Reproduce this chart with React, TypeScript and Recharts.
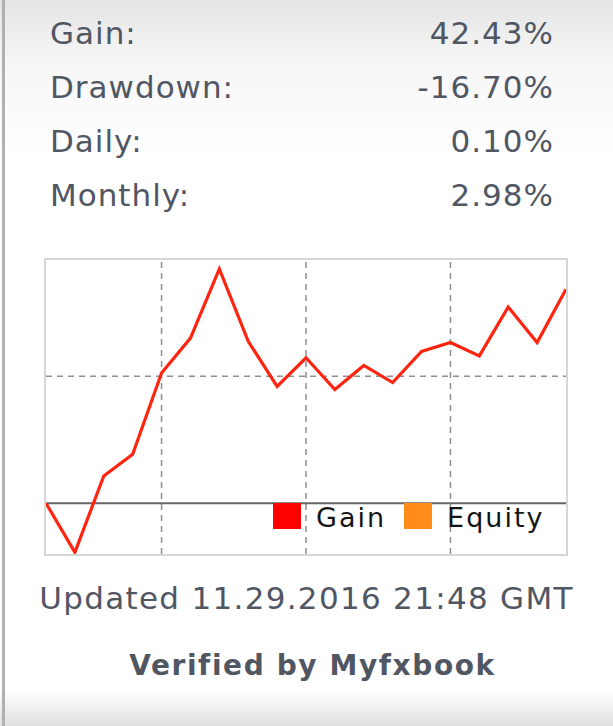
import { Legend, Line, LineChart, ReferenceLine, XAxis, YAxis } from 'recharts';

const statLabels = ['Gain:', 'Drawdown:', 'Daily:', 'Monthly:'];
const statValues = ['42.43%', '-16.70%', '0.10%', '2.98%'];

// one point per period (percent gain)
const gainValues = [0, -7.75, 4.3, 7.7, 20.5, 26.0, 36.9, 25.5, 18.4, 22.9, 17.9, 21.7, 19.0, 23.9, 25.3, 23.2, 30.9, 25.3, 33.7];
const xGridTicks = [4, 9, 14];
const yGridTicks = [20];
const legendNames = ['Gain', 'Equity'];
const legendColors = ['#ff0000', '#ff8c1a'];

const updatedText = 'Updated 11.29.2016 21:48 GMT';
const verifiedText = 'Verified by Myfxbook';

const data = gainValues.map((gain, i) => ({ i, gain }));

const TEXT = '#515663';
const FONT = '"DejaVu Sans", Verdana, sans-serif';
const GRID = { stroke: '#8e8e8e', strokeDasharray: '6 5', strokeWidth: 1.5 };

function LegendBox() {
  return (
    <div style={{ display: 'flex', alignItems: 'center', fontFamily: FONT, fontSize: 27, letterSpacing: 2, color: '#151515' }}>
      {legendNames.map((name, k) => (
        <div key={name} style={{ display: 'flex', alignItems: 'center', marginRight: 18 }}>
          <span style={{ display: 'inline-block', width: 28, height: 26, background: legendColors[k], marginRight: 15 }} />
          <span style={{ lineHeight: '26px', position: 'relative', top: 2 }}>{name}</span>
        </div>
      ))}
    </div>
  );
}

export default function App() {
  return (
    <div
      style={{
        position: 'absolute',
        left: 0,
        top: 0,
        width: 613,
        height: 726,
        overflow: 'hidden',
        background: 'linear-gradient(to bottom, #e4e4e4 0px, #f6f6f6 60px, #ffffff 160px, #ffffff 690px, #f0f0f0 708px, #e0e0e0 726px)',
        fontFamily: FONT,
      }}
    >
      <div style={{ position: 'absolute', left: 2, top: 0, width: 3, height: 726, background: '#b0b0b0' }} />

      <div style={{ position: 'absolute', left: 50, top: 6, width: 504, fontSize: 31, letterSpacing: 1, color: TEXT }}>
        {statLabels.map((label, k) => (
          <div key={label} style={{ display: 'flex', justifyContent: 'space-between', height: 54, lineHeight: '54px' }}>
            <span>{label}</span>
            <span>{statValues[k]}</span>
          </div>
        ))}
      </div>

      <div
        style={{
          position: 'absolute',
          left: 44,
          top: 258,
          width: 524,
          height: 298,
          border: '2px solid #d6d6d6',
          boxSizing: 'border-box',
          background: '#ffffff',
        }}
      >
        <LineChart width={520} height={294} data={data} margin={{ top: 0, right: 0, bottom: 0, left: 0 }}>
          <XAxis type="number" dataKey="i" domain={[0, 18]} hide />
          <YAxis type="number" domain={[-8, 38.3]} hide />
          {xGridTicks.map((x) => (
            <ReferenceLine key={`x${x}`} x={x} {...GRID} />
          ))}
          {yGridTicks.map((y) => (
            <ReferenceLine key={`y${y}`} y={y} {...GRID} />
          ))}
          <ReferenceLine y={0} stroke="#666666" strokeWidth={2} />
          <Line
            type="linear"
            dataKey="gain"
            name="Gain"
            stroke="#ff2410"
            strokeWidth={3.2}
            dot={false}
            activeDot={false}
            isAnimationActive={false}
          />
          <Legend
            layout="horizontal"
            verticalAlign="middle"
            align="center"
            content={<LegendBox />}
            wrapperStyle={{ left: 227, top: 243, width: 'auto' }}
          />
        </LineChart>
      </div>

      <div
        style={{
          position: 'absolute',
          left: 0,
          top: 580,
          width: 613,
          textAlign: 'center',
          fontSize: 31,
          lineHeight: '36px',
          letterSpacing: 1.3,
          color: TEXT,
        }}
      >
        {updatedText}
      </div>
      <div
        style={{
          position: 'absolute',
          left: 6,
          top: 649,
          width: 613,
          textAlign: 'center',
          fontSize: 28,
          fontWeight: 'bold',
          lineHeight: '33px',
          letterSpacing: 1.6,
          color: TEXT,
        }}
      >
        {verifiedText}
      </div>
    </div>
  );
}
